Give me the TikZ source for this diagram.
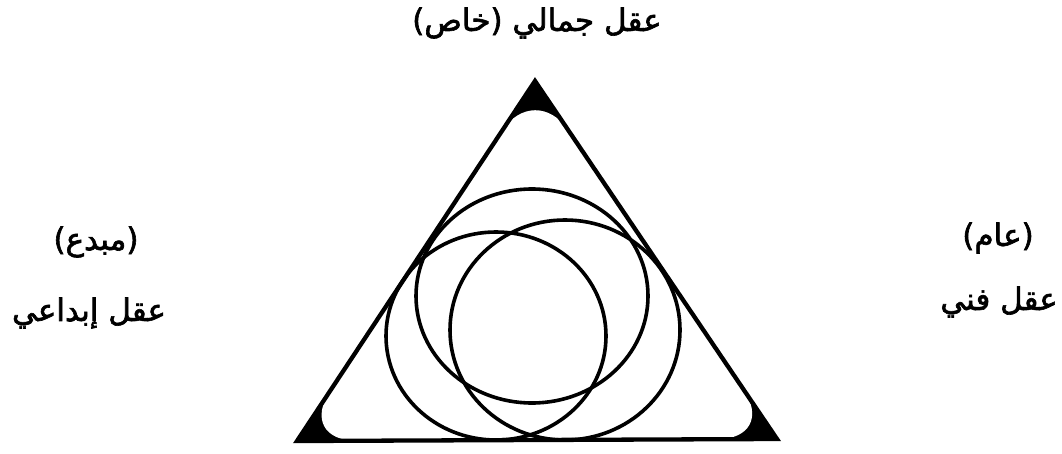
\documentclass[tikz,border=0pt]{standalone}
\usepackage{fontspec}
\newfontfamily\arabicfont[Script=Arabic,FakeBold=2]{DejaVu Sans}
\TeXXeTstate=1
\usetikzlibrary{calc}
\begin{document}
\begin{tikzpicture}[x=1pt,y=-1pt,
  lbl/.style={font=\arabicfont\fontsize{31}{36}\selectfont, inner sep=0pt},
  edge/.style={line width=4.3pt},
  ring/.style={line width=3.6pt}]
\useasboundingbox (0,0) rectangle (1062,454);
\fill[white] (0,0) rectangle (1062,454);
\coordinate (A) at (535,81);
\coordinate (B) at (297,441);
\coordinate (C) at (777,439);
% black corners
\fill[black] (A) -- (B) -- (C) -- cycle;
\fill[white, rounded corners=60pt] ($(A)!0.5!(B)$) -- (B) -- (C) -- (A) -- cycle;
% triangle outline
\draw[edge] (A) -- (B) -- (C) -- cycle;
% three circles
\draw[ring] (532,296) ellipse [x radius=116, y radius=107];
\draw[ring] (496,336) ellipse [x radius=110, y radius=104];
\draw[ring] (565,330) ellipse [x radius=115, y radius=110];
% labels
\node[lbl] (top) at (537,23) {\beginR عقل جمالي (خاص)\endR};
\node[lbl] (l1) at (96,242) {\beginR (مبدع)\endR};
\node[lbl] (l2) at (89,313) {\beginR عقل إبداعي\endR};
\node[lbl] (r1) at (998,238) {\beginR (عام)\endR};
\node[lbl, anchor=east] (r2) at (1058,302) {\beginR عقل فني\endR};
\end{tikzpicture}
\end{document}
